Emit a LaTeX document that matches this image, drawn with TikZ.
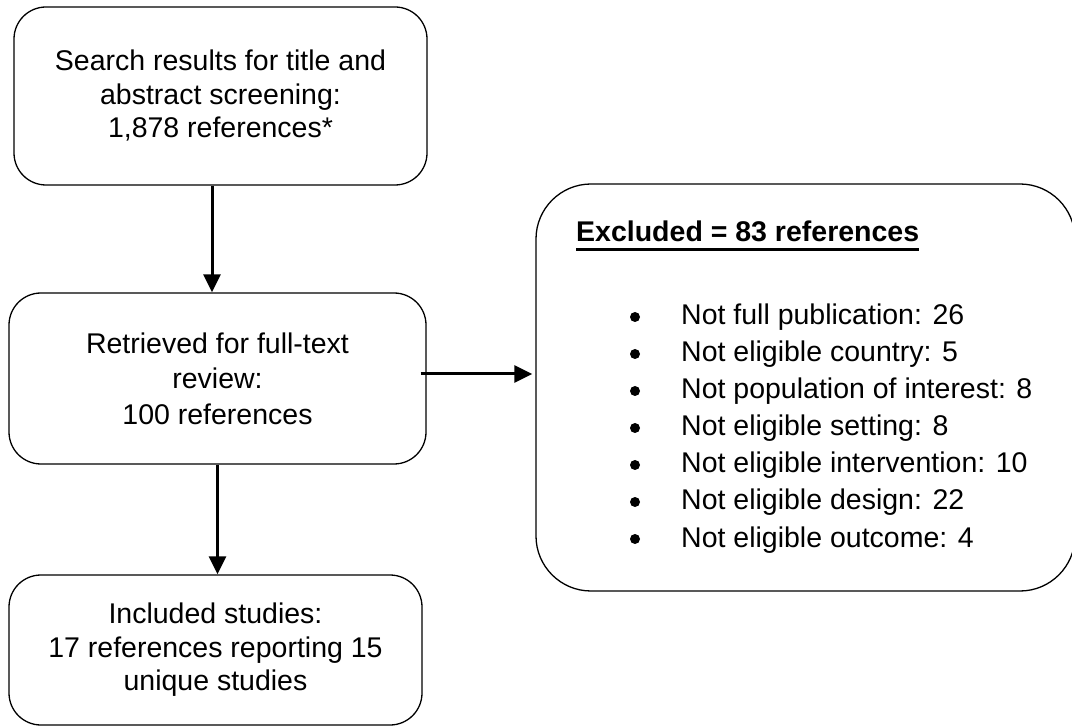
\documentclass[tikz,border=0pt]{standalone}
\usepackage{fontspec}
\setmainfont{Liberation Sans}
\usetikzlibrary{arrows.meta,calc}
\begin{document}
\begin{tikzpicture}[x=1pt,y=-1pt,
  box/.style={draw=black, line width=1.3pt, rounded corners=32pt, align=center, inner sep=0pt},
  txt/.style={font=\fontsize{28.5}{33.5}\selectfont},
  arr/.style={line width=3pt, -{Triangle[length=18pt,width=17pt]}},
  bul/.style={circle, fill=black, inner sep=0pt, minimum size=10pt},
  item/.style={anchor=base west, inner sep=0pt, font=\fontsize{28.5}{34}\selectfont}
]
\useasboundingbox (0,0) rectangle (1072,727);
\node[box, txt, minimum width=413pt, minimum height=178pt] (b1) at (220.5,96)
  {Search results for title and\\abstract screening:\\1,878 references*};
\node[box, minimum width=417pt, minimum height=171pt, font=\fontsize{28.5}{35.5}\selectfont] (b2) at (217.5,378.5)
  {Retrieved for full-text\\review:\\100 references};
\node[box, txt, minimum width=413pt, minimum height=150pt] (b3) at (215.5,650)
  {Included studies:\\17 references reporting 15\\unique studies};
\node[draw=black, line width=1.3pt, rounded corners=55pt, minimum width=539pt, minimum height=407pt, inner sep=0pt] (ex) at (805.5,387.5) {};
\node[anchor=base west, inner sep=0pt, font=\bfseries\fontsize{28.5}{34}\selectfont] (head) at (576,242) {Excluded = 83 references};
\draw[line width=3.2pt] ([yshift=-7.5pt]head.base west) -- ([yshift=-7.5pt]head.base east);
\foreach \t [count=\i] in {Not full publication: 26, Not eligible country: 5, Not population of interest: 8, Not eligible setting: 8, Not eligible intervention: 10, Not eligible design: 22, Not eligible outcome: 4}{
  \node[item] (item\i) at (681,{288+37*\i}) {\t};
  \node[bul] (dot\i) at (635,{280+37*\i}) {};
}
\coordinate (a1) at (212,0);
\coordinate (a3) at (0,374);
\draw[arr] (b1.south -| a1) -- (b2.north -| a1);
\draw[arr] (b2.south) -- (b2.south |- b3.north);
\draw[arr] ($(b2.east |- a3)+(-6,0)$) -- ($(ex.west |- a3)+(-3,0)$);
\end{tikzpicture}
\end{document}
